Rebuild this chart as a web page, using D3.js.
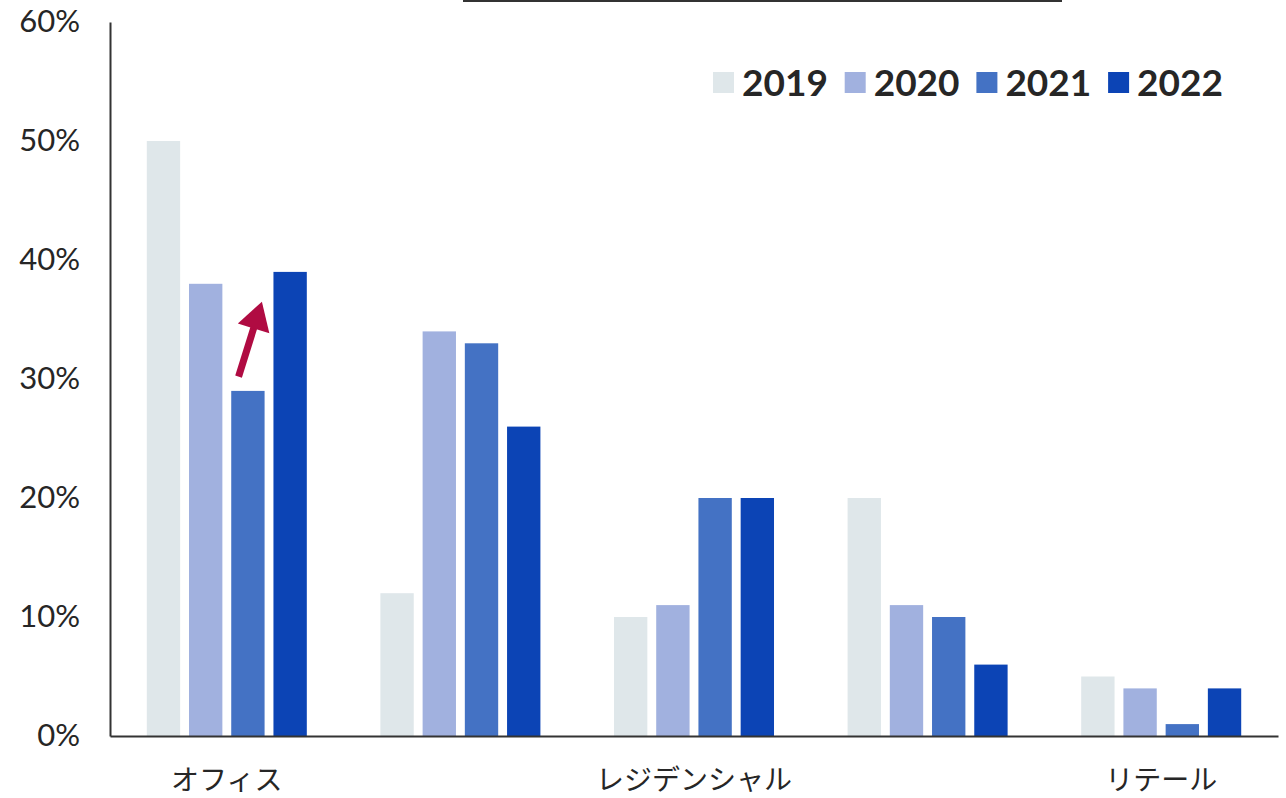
<!DOCTYPE html>
<html lang="ja">
<meta charset="utf-8">
<head>
    <script src="https://d3js.org/d3.v7.min.js"></script>
    <style>
        body { margin: 0; background: #fff; }
        svg { display: block; }
    </style>
</head>
<body>
<div id="chart"></div>
<script>

// categories and tick labels (only three of the five groups are labelled on the axis)
const categories = ["cat1", "cat2", "cat3", "cat4", "cat5"];
const tickLabels = ["オフィス", "", "レジデンシャル", "", "リテール"];
const years = ["2019", "2020", "2021", "2022"];

// share per year, one value per category
const v2019 = [0.50, 0.12, 0.10, 0.20, 0.05];
const v2020 = [0.38, 0.34, 0.11, 0.11, 0.04];
const v2021 = [0.29, 0.33, 0.20, 0.10, 0.01];
const v2022 = [0.39, 0.26, 0.20, 0.06, 0.04];
const yTicks = [0, 0.1, 0.2, 0.3, 0.4, 0.5, 0.6];

const colors = ["#dfe7ea", "#a1b1df", "#4472c4", "#0c44b5"];

const width = 1286,
    height = 798;
const margin = {top: 22, right: 8, bottom: 62, left: 110};

const svg = d3.select("#chart")
    .append("svg")
    .attr("width", width)
    .attr("height", height);

const table = categories.map((c, i) => ({
    cat: c,
    values: [v2019[i], v2020[i], v2021[i], v2022[i]]
}));

// scales
const x0 = d3.scaleBand()
    .domain(categories)
    .range([margin.left, width - margin.right])
    .paddingInner(0.315)
    .paddingOuter(0.1575);

const x1 = d3.scaleBand()
    .domain(years)
    .range([0, x0.bandwidth()])
    .paddingInner(0.21);

const y = d3.scaleLinear()
    .domain([0, 0.6])
    .range([height - margin.bottom, margin.top]);

const color = d3.scaleOrdinal()
    .domain(years)
    .range(colors);

// bars
svg.append("g")
    .selectAll("g")
    .data(table)
    .join("g")
    .attr("transform", d => `translate(${x0(d.cat)},0)`)
    .selectAll("rect")
    .data(d => d.values.map((v, j) => ({year: years[j], value: v})))
    .join("rect")
    .attr("x", d => x1(d.year))
    .attr("y", d => y(d.value))
    .attr("width", x1.bandwidth())
    .attr("height", d => y(0) - y(d.value))
    .attr("fill", d => color(d.year));

// y axis
const yAxis = svg.append("g")
    .attr("transform", `translate(${margin.left},0)`)
    .call(d3.axisLeft(y)
        .tickValues(yTicks)
        .tickSize(0)
        .tickPadding(30)
        .tickFormat(d3.format(".0%")));
yAxis.select(".domain").attr("stroke", "#333").attr("stroke-width", 2);
yAxis.selectAll("text")
    .style("font-family", "Lato, sans-serif")
    .style("font-size", "31px")
    .attr("fill", "#262626");

// x axis
const xAxis = svg.append("g")
    .attr("transform", `translate(0,${y(0)})`)
    .call(d3.axisBottom(x0)
        .tickSize(0)
        .tickPadding(34)
        .tickFormat((d, i) => tickLabels[i]));
xAxis.select(".domain").attr("stroke", "#333").attr("stroke-width", 2);
xAxis.selectAll("text")
    .style("font-family", "'Noto Sans CJK JP', sans-serif")
    .style("font-size", "28px")
    .attr("fill", "#262626");

// legend
const legend = svg.append("g")
    .attr("transform", "translate(713,72)")
    .selectAll("g")
    .data(years)
    .join("g")
    .attr("transform", (d, i) => `translate(${i * 131.7},0)`);
legend.append("rect")
    .attr("width", 21)
    .attr("height", 21)
    .attr("fill", d => color(d));
legend.append("text")
    .attr("x", 29)
    .attr("y", 24)
    .text(d => d)
    .style("font-family", "Lato, sans-serif")
    .style("font-weight", "bold")
    .style("font-size", "37px")
    .attr("fill", "#262626");

// annotation arrow over the office 2021 bar
const ax = x0(categories[0]) + x1("2021");
const bw = x1.bandwidth();
const start = [ax + bw * 0.22, y(0.302)];
const tip = [ax + bw * 0.92, y(0.365)];
const dx = tip[0] - start[0], dy = tip[1] - start[1];
const len = Math.hypot(dx, dy);
const ux = dx / len, uy = dy / len;
const headLen = 28, headHalf = 16.5;
const base = [tip[0] - ux * headLen, tip[1] - uy * headLen];
const arrowColor = "#b00b42";
svg.append("line")
    .attr("x1", start[0]).attr("y1", start[1])
    .attr("x2", base[0] + ux * 2).attr("y2", base[1] + uy * 2)
    .attr("stroke", arrowColor)
    .attr("stroke-width", 7);
svg.append("path")
    .attr("d", d3.line()([
        tip,
        [base[0] - uy * headHalf, base[1] + ux * headHalf],
        [base[0] + uy * headHalf, base[1] - ux * headHalf]
    ]) + "Z")
    .attr("fill", arrowColor);

// leftover rule at the top of the frame
svg.append("line")
    .attr("x1", 463).attr("x2", 1062)
    .attr("y1", 1).attr("y2", 1)
    .attr("stroke", "#333")
    .attr("stroke-width", 2);

</script>
</body>
</html>
